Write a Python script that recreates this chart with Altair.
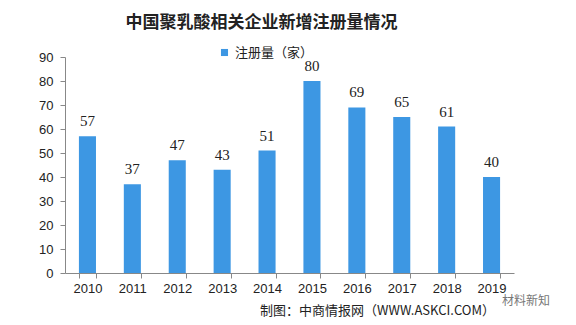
import altair as alt
import pandas as pd

years = ["2010", "2011", "2012", "2013", "2014", "2015", "2016", "2017", "2018", "2019"]
counts = [57, 37, 47, 43, 51, 80, 69, 65, 61, 40]
y_ticks = [0, 10, 20, 30, 40, 50, 60, 70, 80, 90]
series_name = "注册量（家）"
title_text = "中国聚乳酸相关企业新增注册量情况"
source_text = "制图：中商情报网（WWW.ASKCI.COM）"
mark_text = "材料新知"

df = pd.DataFrame({"year": years, "count": counts, "series": [series_name] * len(years)})

BLUE = "#3D97E3"
CJK = "Noto Sans CJK SC"

x = alt.X("year:N", sort=years, title=None,
          scale=alt.Scale(paddingInner=0.62, paddingOuter=0.31),
          axis=alt.Axis(labelAngle=0, tickBand="extent", labelFont="Liberation Sans",
                        labelFontSize=13, labelColor="#222", domainColor="#888",
                        tickColor="#888", tickSize=5, labelPadding=4, grid=False))
y = alt.Y("count:Q", title=None,
          scale=alt.Scale(domain=[0, 90], nice=False),
          axis=alt.Axis(values=y_ticks, labelFont="Liberation Sans",
                        labelOverlap=False, labelFontSize=13, labelColor="#222",
                        domainColor="#888", tickColor="#888", tickSize=5,
                        labelPadding=7, grid=False))

bars = alt.Chart(df).mark_bar(color=BLUE).encode(
    x=x, y=y,
    color=alt.Color("series:N", scale=alt.Scale(range=[BLUE]),
                    legend=alt.Legend(title=None, orient="none", legendX=153, legendY=-11,
                                      symbolType="square", symbolSize=50,
                                      labelFont=CJK, labelFontSize=13, labelColor="#222")),
)

labels = alt.Chart(df).mark_text(baseline="bottom", dy=-7, font="Liberation Serif",
                                 fontSize=15, color="#222").encode(
    x=x, y=y, text="count:Q")

source = alt.Chart(pd.DataFrame({"t": [source_text]})).mark_text(
    align="right", baseline="middle", font=CJK, fontSize=13, color="#222").encode(
    x=alt.value(430), y=alt.value(254), text="t:N")

wm = alt.Chart(pd.DataFrame({"t": [mark_text]})).mark_text(
    align="left", baseline="middle", font=CJK, fontSize=12, color="#777").encode(
    x=alt.value(437), y=alt.value(244), text="t:N")

chart = alt.layer(bars, labels, source, wm).properties(
    width=449, height=216,
    autosize=alt.AutoSizeParams(type="none"),
    padding={"left": 65, "top": 57, "right": 62, "bottom": 52},
    title=alt.TitleParams(title_text, font=CJK, fontSize=17, fontWeight="bold",
                          color="#222", anchor="middle", dx=-28, offset=14),
).configure_view(strokeWidth=0).configure_axisY(values=y_ticks, labelOverlap=False)

chart.save("out.html", embed_options={"renderer": "svg", "actions": False})
